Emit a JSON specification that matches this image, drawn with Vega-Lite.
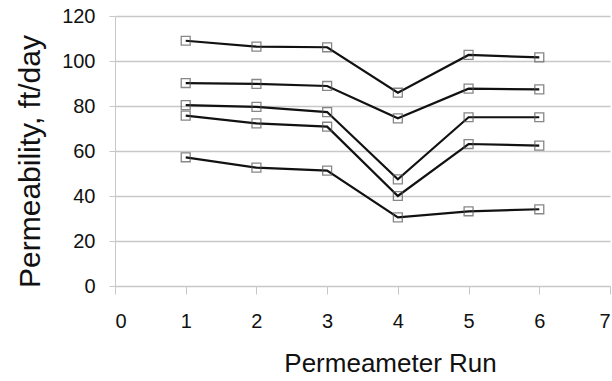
{
  "$schema": "https://vega.github.io/schema/vega-lite/v6.json",
  "autosize": {"type": "none"},
  "width": 495,
  "height": 270,
  "padding": {"left": 115, "top": 16, "right": 2, "bottom": 95},
  "background": "white",
  "config": {"view": {"stroke": null}, "font": "Liberation Sans"},
  "data": {"values": [
    {"run": 1, "s": "A", "k": 109.0}, {"run": 2, "s": "A", "k": 106.4}, {"run": 3, "s": "A", "k": 106.1}, {"run": 4, "s": "A", "k": 85.9}, {"run": 5, "s": "A", "k": 102.7}, {"run": 6, "s": "A", "k": 101.6},
    {"run": 1, "s": "B", "k": 90.2}, {"run": 2, "s": "B", "k": 89.8}, {"run": 3, "s": "B", "k": 88.9}, {"run": 4, "s": "B", "k": 74.5}, {"run": 5, "s": "B", "k": 87.7}, {"run": 6, "s": "B", "k": 87.4},
    {"run": 1, "s": "C", "k": 80.4}, {"run": 2, "s": "C", "k": 79.6}, {"run": 3, "s": "C", "k": 77.3}, {"run": 4, "s": "C", "k": 47.4}, {"run": 5, "s": "C", "k": 75.0}, {"run": 6, "s": "C", "k": 75.0},
    {"run": 1, "s": "D", "k": 75.7}, {"run": 2, "s": "D", "k": 72.3}, {"run": 3, "s": "D", "k": 70.8}, {"run": 4, "s": "D", "k": 40.0}, {"run": 5, "s": "D", "k": 63.1}, {"run": 6, "s": "D", "k": 62.4},
    {"run": 1, "s": "E", "k": 57.2}, {"run": 2, "s": "E", "k": 52.6}, {"run": 3, "s": "E", "k": 51.3}, {"run": 4, "s": "E", "k": 30.5}, {"run": 5, "s": "E", "k": 33.2}, {"run": 6, "s": "E", "k": 34.1}
  ]},
  "encoding": {
    "x": {"field": "run", "type": "quantitative",
      "scale": {"domain": [0, 7], "nice": false},
      "axis": {"title": "Permeameter Run", "values": [0,1,2,3,4,5,6,7], "grid": false,
        "domainColor": "#c8c8c8", "tickColor": "#c8c8c8", "tickSize": 8,
        "labelFontSize": 20, "labelColor": "#111", "labelPadding": 17,
        "titleFontSize": 26, "titleFontWeight": "normal", "titleColor": "#111", "titlePadding": 19,
        "titleX": 275}},
    "y": {"field": "k", "type": "quantitative",
      "scale": {"domain": [0, 120], "nice": false},
      "axis": {"title": "Permeability, ft/day", "values": [0,20,40,60,80,100,120],
        "gridColor": "#c8c8c8", "gridWidth": 1.3,
        "domainColor": "#c8c8c8", "tickColor": "#c8c8c8", "tickSize": 6,
        "labelFontSize": 20, "labelColor": "#111", "labelPadding": 14,
        "titleFontSize": 30, "titleFontWeight": "normal", "titleColor": "#111", "titlePadding": 16,
        "titleY": 145}}
  },
  "layer": [
    {"mark": {"type": "line", "color": "#111", "strokeWidth": 2.2},
     "encoding": {"detail": {"field": "s"}}},
    {"mark": {"type": "point", "shape": "square", "filled": false, "size": 80, "stroke": "#555", "strokeWidth": 1.3},
     "encoding": {"detail": {"field": "s"}}}
  ]
}
